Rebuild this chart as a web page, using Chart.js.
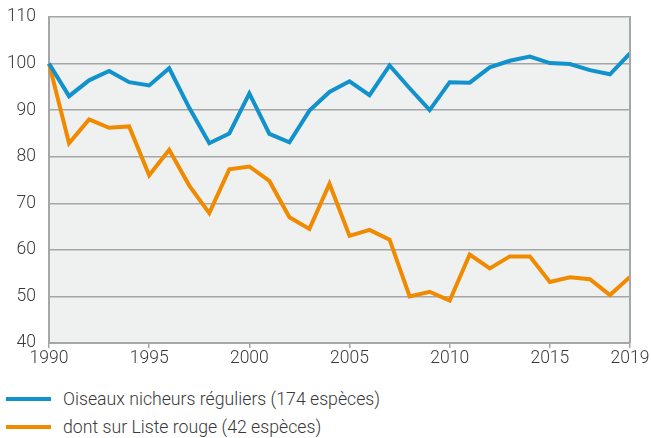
<!DOCTYPE html>
<html><head><meta charset="utf-8">
<script src="https://cdn.jsdelivr.net/npm/chart.js@4"></script>
<style>
html,body{margin:0;padding:0;background:#fff;}
#wrap{position:relative;width:651px;height:438px;font-family:Roboto,"Liberation Sans",sans-serif;}
#c{position:absolute;left:0;top:0;}
.leg{position:absolute;left:6px;font-size:17.7px;color:#3a3a3a;display:flex;align-items:center;font-weight:300;height:20px;}
.leg span.l{display:inline-block;width:45px;height:4px;margin-right:12px;}
</style></head><body>
<div id="wrap">
<canvas id="c" width="651" height="373"></canvas>
<div class="leg" id="leg1" style="top:389px"><span class="l" style="background:#1192cc"></span><span></span></div>
<div class="leg" id="leg2" style="top:417px"><span class="l" style="background:#f08a00"></span><span></span></div>
</div>
<script>
const years = [1990,1991,1992,1993,1994,1995,1996,1997,1998,1999,2000,2001,2002,2003,2004,2005,2006,2007,2008,2009,2010,2011,2012,2013,2014,2015,2016,2017,2018,2019];
const nicheurs = [100,93.0,96.4,98.4,96.0,95.3,99.0,90.5,82.9,85.0,93.6,84.9,83.1,89.9,93.9,96.2,93.2,99.6,94.7,90.0,96.0,95.9,99.2,100.6,101.5,100.1,99.9,98.6,97.7,102.2];
const listeRouge = [100,82.9,88.0,86.2,86.5,76.0,81.5,73.8,67.9,77.3,77.9,74.8,67.0,64.5,74.2,63.0,64.3,62.2,50.0,51.0,49.1,59.0,56.0,58.6,58.6,53.1,54.1,53.7,50.3,54.2];
const xTicks = [1990,1995,2000,2005,2010,2015,2019];
const yTicks = [40,50,60,70,80,90,100,110];
const labels = ["Oiseaux nicheurs réguliers (174 espèces)","dont sur Liste rouge (42 espèces)"];
const colors = ["#1192cc","#f08a00"];

document.querySelector('#leg1 span:last-child').textContent = labels[0];
document.querySelector('#leg2 span:last-child').textContent = labels[1];

const bgPlugin = {
  id:'bg',
  beforeDraw(chart){
    const {ctx, chartArea:a} = chart;
    ctx.save(); ctx.fillStyle='#eff0f0';
    ctx.fillRect(a.left,a.top,a.right-a.left,a.bottom-a.top);
    ctx.restore();
  },
  afterDatasetsDraw(chart){
    const {ctx, chartArea:a} = chart;
    ctx.save(); ctx.strokeStyle='#a6a6a6'; ctx.lineWidth=2;
    ctx.beginPath(); ctx.moveTo(a.right, a.top-1); ctx.lineTo(a.right, a.bottom); ctx.stroke();
    ctx.restore();
  }
};

new Chart(document.getElementById('c'), {
  type:'line',
  data:{
    datasets:[
      {label:labels[0], data:years.map((y,i)=>({x:y,y:nicheurs[i]})), borderColor:colors[0], borderWidth:4, pointRadius:0, tension:0, borderJoinStyle:'miter', fill:false},
      {label:labels[1], data:years.map((y,i)=>({x:y,y:listeRouge[i]})), borderColor:colors[1], borderWidth:4, pointRadius:0, tension:0, borderJoinStyle:'miter', fill:false}
    ]
  },
  options:{
    responsive:false, animation:false, clip:false,
    layout:{padding:{top:17,right:21,left:0,bottom:0}},
    plugins:{legend:{display:false}, tooltip:{enabled:false}},
    scales:{
      x:{type:'linear', min:1990, max:2019,
        afterBuildTicks(s){ s.ticks = xTicks.map(v=>({value:v})); },
        afterFit(s){ s.height = 30; s.paddingLeft = 0; s.paddingRight = 0; },
        grid:{drawOnChartArea:false, drawTicks:true, tickLength:5, color:'#a6a6a6', lineWidth:1.5},
        border:{color:'#a6a6a6', width:2},
        ticks:{color:'#3a3a3a', font:{family:'Roboto', size:17.5, weight:300}, padding:0, maxRotation:0, autoSkip:false, callback:v=>String(v)}
      },
      y:{min:40, max:110,
        afterBuildTicks(s){ s.ticks = yTicks.map(v=>({value:v})); },
        afterFit(s){ s.width = 49; s.paddingTop = 0; s.paddingBottom = 0; },
        grid:{color:'#a6a6a6', lineWidth:1.5, drawTicks:false},
        border:{color:'#a6a6a6', width:2},
        ticks:{color:'#3a3a3a', font:{family:'Roboto', size:17.5, weight:300}, padding:13}
      }
    }
  },
  plugins:[bgPlugin]
});
</script>
</body></html>
